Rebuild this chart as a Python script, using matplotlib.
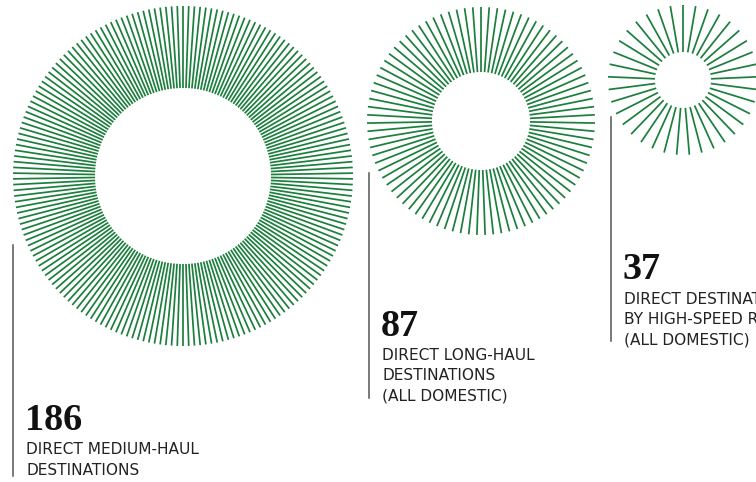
import numpy as np
import matplotlib
matplotlib.use("Agg")
import matplotlib.pyplot as plt
from matplotlib.collections import LineCollection

counts = [186, 87, 37]
numbers = ["186", "87", "37"]
labels = [
    ["DIRECT MEDIUM-HAUL", "DESTINATIONS"],
    ["DIRECT LONG-HAUL", "DESTINATIONS", "(ALL DOMESTIC)"],
    ["DIRECT DESTINATIONS", "BY HIGH-SPEED RAIL", "(ALL DOMESTIC)"],
]

# layout (pixel space)
centers = [(183, 176), (481, 121), (683, 80)]
outer_r = [170, 114, 75]
inner_r = [88, 49, 28]
rule_x = [13, 369, 611]
rule_top = [245, 173, 117]
rule_bot = [476, 398, 341]
num_y = [430, 336, 279]
lab_y0 = [450, 355, 299]
line_gap = 20.5

GREEN = "#1c7f3d"
W, H = 756, 482
fig = plt.figure(figsize=(W / 100, H / 100), dpi=100)
ax = fig.add_axes([0, 0, 1, 1])
ax.set_xlim(0, W)
ax.set_ylim(H, 0)
ax.axis("off")

for i, n in enumerate(counts):
    cx, cy = centers[i]
    ang = np.pi / 2 + np.arange(n) * 2 * np.pi / n
    segs = [[(cx + inner_r[i] * np.cos(a), cy - inner_r[i] * np.sin(a)),
             (cx + outer_r[i] * np.cos(a), cy - outer_r[i] * np.sin(a))] for a in ang]
    ax.add_collection(LineCollection(segs, colors=GREEN, linewidths=1.25, antialiased=True))
    ax.plot([rule_x[i], rule_x[i]], [rule_top[i], rule_bot[i]], color="#555555", lw=1.1)
    tx = rule_x[i] + 13
    ax.text(tx - 1, num_y[i], numbers[i], fontfamily="Liberation Serif", fontweight="bold",
            fontsize=27.5, color="#111111", va="baseline", ha="left")
    for j, lab in enumerate(labels[i]):
        ax.text(tx, lab_y0[i] + j * line_gap, lab, fontfamily="DejaVu Sans", fontsize=11.1,
                color="#222222", va="center", ha="left")

fig.savefig("out.png", dpi=100)
